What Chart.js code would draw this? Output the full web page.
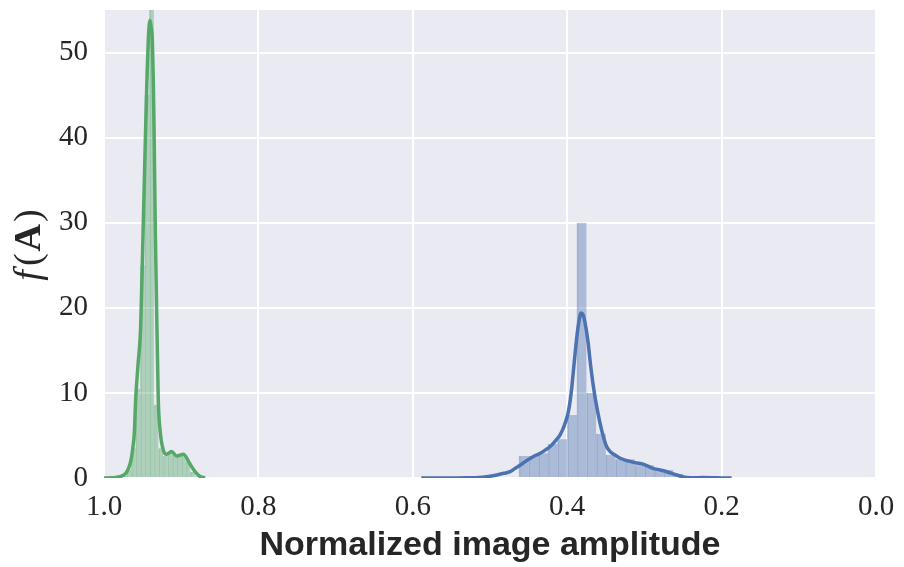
<!DOCTYPE html>
<html>
<head>
<meta charset="utf-8">
<script src="https://cdn.jsdelivr.net/npm/chart.js@4"></script>
<style>
  html, body { margin: 0; padding: 0; background: #fff; }
</style>
</head>
<body>
<canvas id="ampChart" width="904" height="567"></canvas>
<script>
// axis ticks (x axis runs from 1.0 down to 0.0)
const xTicks = [1.0, 0.8, 0.6, 0.4, 0.2, 0.0];
const yTicks = [0, 10, 20, 30, 40, 50];

// bright population: histogram bin centres / densities
const greenBins = [0.97375, 0.96785, 0.96195, 0.95605, 0.95015, 0.94425, 0.93835, 0.93245,
  0.92655, 0.92065, 0.91475, 0.90885, 0.90295, 0.89705, 0.89115, 0.88525, 0.87935];
const greenHeights = [0.3, 1.0, 3.5, 10.5, 25, 45, 62, 8.6,
  3.5, 2.6, 3.0, 2.7, 2.6, 2.7, 1.9, 0.7, 0.2];

// bright population: kde curve
const greenKdeX = [1.0, 0.99, 0.98, 0.9719, 0.968, 0.965, 0.9627, 0.9607, 0.959, 0.956, 0.9525,
  0.9499, 0.948, 0.946, 0.944, 0.9426, 0.9415, 0.9404, 0.939, 0.9374, 0.9362, 0.9352, 0.9335,
  0.9313, 0.9297, 0.927, 0.9232, 0.919, 0.9125, 0.906, 0.897, 0.889, 0.882, 0.876, 0.869];
const greenKdeY = [0, 0.03, 0.15, 0.55, 1.2, 2.1, 3.5, 5.3, 9.2, 13.2, 17.8,
  27, 34, 41.3, 48, 51.5, 53.2, 53.8, 53.0, 51.5, 47, 41.3, 28.8,
  17, 9.2, 5.3, 3.3, 2.8, 3.1, 2.6, 2.8, 1.7, 0.74, 0.2, 0];

// dim population: histogram bin centres / densities
const blueBins = [0.45625, 0.44375, 0.43125, 0.41875, 0.40625, 0.39375, 0.38125, 0.36875,
  0.35625, 0.34375, 0.33125, 0.31875, 0.30625, 0.29375, 0.28125, 0.26875, 0.25625];
const blueHeights = [2.6, 2.6, 2.9, 4.0, 4.55, 7.4, 30, 10,
  5.2, 2.7, 2.2, 2.2, 1.5, 1.5, 0.94, 0.94, 0.47];

// dim population: kde curve
const blueKdeX = [0.589, 0.56, 0.53, 0.51, 0.5, 0.49, 0.482, 0.474, 0.468, 0.461, 0.454, 0.448,
  0.44, 0.435, 0.428, 0.422, 0.415, 0.409, 0.4025, 0.398, 0.394, 0.391, 0.388, 0.385, 0.382,
  0.3795, 0.377, 0.373, 0.37, 0.366, 0.361, 0.3553, 0.349, 0.343, 0.338, 0.332, 0.325, 0.312,
  0.301, 0.289, 0.28, 0.271, 0.258, 0.245, 0.235, 0.225, 0.21, 0.2, 0.187];
const blueKdeY = [0, 0, 0.02, 0.1, 0.2, 0.38, 0.55, 0.74, 1.1, 1.5, 1.95, 2.3,
  2.7, 2.9, 3.3, 3.7, 4.4, 5.1, 6.5, 8.0, 10.7, 13.5, 16.2, 18.3, 19.4,
  19.2, 18.3, 16.0, 13.5, 10.7, 8.0, 5.6, 3.7, 3.0, 2.7, 2.35, 2.1, 1.8,
  1.6, 1.14, 0.95, 0.74, 0.35, 0.05, 0.02, 0.05, 0.03, 0, 0];

const BLUE = "#4C72B0";
const GREEN = "#55A868";
const TEXT = "#262626";

const pts = (xs, ys) => xs.map((x, i) => ({ x: x, y: ys[i] }));

// grey panel behind the data
const panelBg = {
  id: "panelBg",
  beforeDraw(chart) {
    const a = chart.chartArea, ctx = chart.ctx;
    ctx.save();
    ctx.fillStyle = "#EAEAF2";
    ctx.fillRect(a.left, a.top, a.right - a.left, a.bottom - a.top);
    ctx.restore();
  }
};

// y label "f(A)" with italic f and bold A
const yLabel = {
  id: "yLabel",
  afterDraw(chart) {
    const ctx = chart.ctx;
    const parts = [
      ["f", "italic 38px 'Liberation Serif'", 4],
      ["(", "38px 'Liberation Serif'", 2],
      ["A", "bold 38px 'Liberation Serif'", 2],
      [")", "38px 'Liberation Serif'", 0]
    ];
    ctx.save();
    ctx.fillStyle = TEXT;
    ctx.textBaseline = "alphabetic";
    let total = 0;
    parts.forEach(p => { ctx.font = p[1]; total += ctx.measureText(p[0]).width + p[2]; });
    ctx.translate(40, 245);
    ctx.rotate(-Math.PI / 2);
    let x = -total / 2;
    parts.forEach(p => {
      ctx.font = p[1];
      ctx.fillText(p[0], x, 0);
      x += ctx.measureText(p[0]).width + p[2];
    });
    ctx.restore();
  }
};

const tickFont = { family: "'Liberation Serif', serif", size: 29 };

const xScale = (show) => ({
  type: "linear",
  display: show,
  min: 0,
  max: 1,
  reverse: true,
  offset: false,
  afterBuildTicks: s => { s.ticks = xTicks.map(v => ({ value: v })); },
  afterFit: s => {
    s.height = show ? 89 : 0;
    s.paddingLeft = 0;
    s.paddingRight = 0;
  },
  grid: { color: "#fff", lineWidth: 2, drawTicks: false, offset: false },
  border: { display: false },
  ticks: { font: tickFont, color: TEXT, padding: 12, maxRotation: 0,
    callback: v => Number(v).toFixed(1) },
  title: { display: show, text: "Normalized image amplitude", color: TEXT,
    font: { family: "'Liberation Sans', sans-serif", size: 34, weight: "bold" },
    padding: { top: 0, bottom: 1 } }
});

new Chart(document.getElementById("ampChart"), {
  type: "bar",
  data: {
    datasets: [
      { type: "line", data: pts(blueKdeX, blueKdeY), xAxisID: "x", yAxisID: "y",
        borderColor: BLUE, borderWidth: 3.5, pointRadius: 0,
        cubicInterpolationMode: "monotone", order: 1 },
      { type: "line", data: pts(greenKdeX, greenKdeY), xAxisID: "x", yAxisID: "y",
        borderColor: GREEN, borderWidth: 3.5, pointRadius: 0,
        cubicInterpolationMode: "monotone", order: 1 },
      { type: "bar", data: pts(blueBins, blueHeights), xAxisID: "x2", yAxisID: "y",
        backgroundColor: "rgba(76,114,176,0.4)", borderColor: "rgba(76,114,176,0.35)",
        borderWidth: { left: 1, right: 0, top: 0, bottom: 0 }, borderSkipped: false,
        barPercentage: 1, categoryPercentage: 1, grouped: false, order: 2 },
      { type: "bar", data: pts(greenBins, greenHeights), xAxisID: "x", yAxisID: "y",
        backgroundColor: "rgba(85,168,104,0.4)", borderColor: "rgba(85,168,104,0.35)",
        borderWidth: { left: 1, right: 0, top: 0, bottom: 0 }, borderSkipped: false,
        barPercentage: 1, categoryPercentage: 1, grouped: false, order: 2 }
    ]
  },
  options: {
    responsive: false,
    animation: false,
    devicePixelRatio: 1,
    layout: { padding: { top: 10, right: 28, left: 0, bottom: 0 } },
    plugins: { legend: { display: false }, tooltip: { enabled: false } },
    scales: {
      x: xScale(true),
      x2: xScale(false),
      y: {
        min: 0,
        max: 55,
        afterBuildTicks: s => { s.ticks = yTicks.map(v => ({ value: v })); },
        afterFit: s => {
          s.width = 104;
          s.paddingTop = 0;
          s.paddingBottom = 0;
        },
        grid: { color: "#fff", lineWidth: 2, drawTicks: false },
        border: { display: false },
        ticks: { font: tickFont, color: TEXT, padding: 16 }
      }
    }
  },
  plugins: [panelBg, yLabel]
});
</script>
</body>
</html>
